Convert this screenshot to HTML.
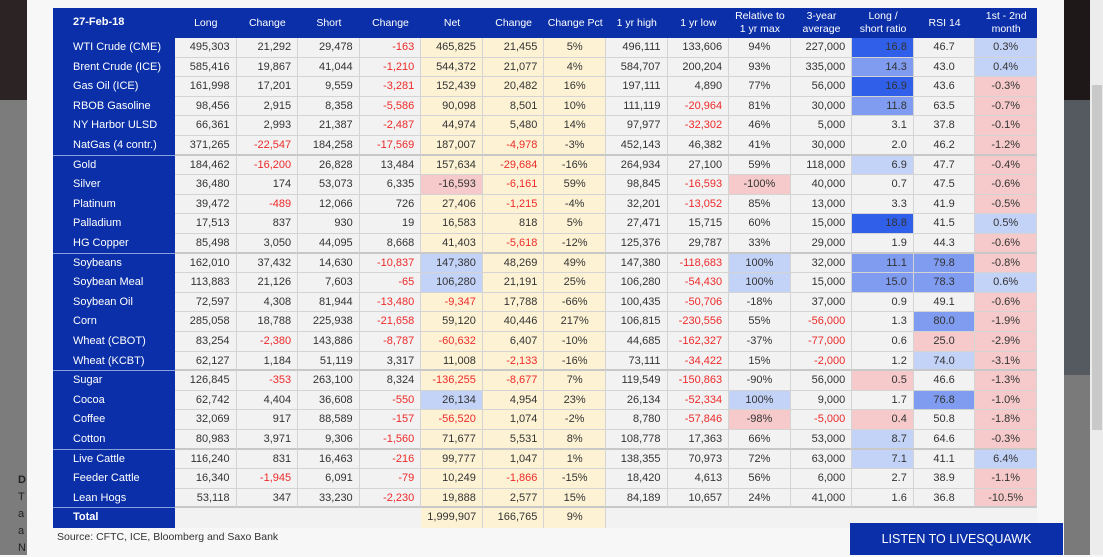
<!DOCTYPE html>
<html><head><meta charset="utf-8">
<style>
*{margin:0;padding:0;box-sizing:border-box}
body{width:1103px;height:555px;overflow:hidden;background:#f7f7f7;font-family:"Liberation Sans",sans-serif;position:relative}
.abs{position:absolute}
#tbl{position:absolute;left:53px;top:8px;width:984px;height:520px;background:#0a2fa8}
.c{position:absolute;font-size:11px;color:#333;line-height:19.6px;white-space:nowrap;border-right:1px solid #d4d4d4;border-bottom:1px solid #d4d4d4;padding:0 6px}
.h{position:absolute;color:#fff;font-size:10.5px;text-align:center;display:flex;align-items:center;justify-content:center;line-height:13px}
.lab{position:absolute;color:#fff;font-size:11px;line-height:19.6px;left:20px}
</style></head><body>
<div class="abs" style="left:0;top:0;width:27px;height:555px;background:#7c7c7c"></div>
<div class="abs" style="left:0;top:0;width:27px;height:100px;background:#2c2424"></div>
<div class="abs" style="left:18px;top:472px;font-size:11px;color:#222;line-height:17px;font-weight:bold">D<br><span style="font-weight:normal">T<br>a<br>a<br>N</span></div>
<div class="abs" style="left:1064px;top:0;width:26px;height:555px;background:#7a7a7a"></div>
<div class="abs" style="left:1064px;top:0;width:26px;height:100px;background:#1e1818"></div>
<div class="abs" style="left:1064px;top:100px;width:26px;height:275px;background:#555a60"></div>
<div class="abs" style="left:1090px;top:0;width:13px;height:555px;background:#ececec"></div>
<div class="abs" style="left:1092px;top:85px;width:10px;height:345px;background:#c9c9c9"></div>

<div id="tbl"></div>
<div class="abs" style="left:57px;top:531px;font-size:10.5px;color:#333">Source: CFTC, ICE, Bloomberg and Saxo Bank</div>
<div class="abs" style="left:850px;top:523px;width:213px;height:32px;background:#0a2fa8;color:#fff;font-size:12.5px;text-align:center;line-height:32px">LISTEN TO LIVESQUAWK</div>

<script>
const headers=["Long","Change","Short","Change","Net","Change","Change Pct","1 yr high","1 yr low","Relative to<br>1 yr max","3-year<br>average","Long /<br>short ratio","RSI 14","1st - 2nd<br>month"];
const labels=["WTI Crude (CME)","Brent Crude (ICE)","Gas Oil (ICE)","RBOB Gasoline","NY Harbor ULSD","NatGas (4 contr.)","Gold","Silver","Platinum","Palladium","HG Copper","Soybeans","Soybean Meal","Soybean Oil","Corn","Wheat (CBOT)","Wheat (KCBT)","Sugar","Cocoa","Coffee","Cotton","Live Cattle","Feeder Cattle","Lean Hogs"];
const rows=[
["495,303","21,292","29,478","-163","465,825","21,455","5%","496,111","133,606","94%","227,000","16.8","46.7","0.3%"],
["585,416","19,867","41,044","-1,210","544,372","21,077","4%","584,707","200,204","93%","335,000","14.3","43.0","0.4%"],
["161,998","17,201","9,559","-3,281","152,439","20,482","16%","197,111","4,890","77%","56,000","16.9","43.6","-0.3%"],
["98,456","2,915","8,358","-5,586","90,098","8,501","10%","111,119","-20,964","81%","30,000","11.8","63.5","-0.7%"],
["66,361","2,993","21,387","-2,487","44,974","5,480","14%","97,977","-32,302","46%","5,000","3.1","37.8","-0.1%"],
["371,265","-22,547","184,258","-17,569","187,007","-4,978","-3%","452,143","46,382","41%","30,000","2.0","46.2","-1.2%"],
["184,462","-16,200","26,828","13,484","157,634","-29,684","-16%","264,934","27,100","59%","118,000","6.9","47.7","-0.4%"],
["36,480","174","53,073","6,335","-16,593","-6,161","59%","98,845","-16,593","-100%","40,000","0.7","47.5","-0.6%"],
["39,472","-489","12,066","726","27,406","-1,215","-4%","32,201","-13,052","85%","13,000","3.3","41.9","-0.5%"],
["17,513","837","930","19","16,583","818","5%","27,471","15,715","60%","15,000","18.8","41.5","0.5%"],
["85,498","3,050","44,095","8,668","41,403","-5,618","-12%","125,376","29,787","33%","29,000","1.9","44.3","-0.6%"],
["162,010","37,432","14,630","-10,837","147,380","48,269","49%","147,380","-118,683","100%","32,000","11.1","79.8","-0.8%"],
["113,883","21,126","7,603","-65","106,280","21,191","25%","106,280","-54,430","100%","15,000","15.0","78.3","0.6%"],
["72,597","4,308","81,944","-13,480","-9,347","17,788","-66%","100,435","-50,706","-18%","37,000","0.9","49.1","-0.6%"],
["285,058","18,788","225,938","-21,658","59,120","40,446","217%","106,815","-230,556","55%","-56,000","1.3","80.0","-1.9%"],
["83,254","-2,380","143,886","-8,787","-60,632","6,407","-10%","44,685","-162,327","-37%","-77,000","0.6","25.0","-2.9%"],
["62,127","1,184","51,119","3,317","11,008","-2,133","-16%","73,111","-34,422","15%","-2,000","1.2","74.0","-3.1%"],
["126,845","-353","263,100","8,324","-136,255","-8,677","7%","119,549","-150,863","-90%","56,000","0.5","46.6","-1.3%"],
["62,742","4,404","36,608","-550","26,134","4,954","23%","26,134","-52,334","100%","9,000","1.7","76.8","-1.0%"],
["32,069","917","88,589","-157","-56,520","1,074","-2%","8,780","-57,846","-98%","-5,000","0.4","50.8","-1.8%"],
["80,983","3,971","9,306","-1,560","71,677","5,531","8%","108,778","17,363","66%","53,000","8.7","64.6","-0.3%"],
["116,240","831","16,463","-216","99,777","1,047","1%","138,355","70,973","72%","63,000","7.1","41.1","6.4%"],
["16,340","-1,945","6,091","-79","10,249","-1,866","-15%","18,420","4,613","56%","6,000","2.7","38.9","-1.1%"],
["53,118","347","33,230","-2,230","19,888","2,577","15%","84,189","10,657","24%","41,000","1.6","36.8","-10.5%"]];
const totals=["1,999,907","166,765","9%"];
const highlights={"0:11":"S","1:11":"M","2:11":"S","3:11":"M","6:11":"L","9:11":"S","11:11":"M","12:11":"M","17:11":"P","19:11":"P","20:11":"L","21:11":"L",
"11:12":"M","12:12":"M","14:12":"M","15:12":"P","16:12":"L","18:12":"M",
"7:9":"P","11:9":"L","12:9":"L","18:9":"L","19:9":"P",
"7:4":"P","11:4":"L","12:4":"L","18:4":"L"};
const groupEnds=[5,10,16,20,23];
const fill={S:"#3060ea",M:"#7f9cf0",L:"#c3d2f7",P:"#f6caca"};
const T=document.getElementById('tbl');
const X0=122,CW=61.57,HH=30,RH=19.6;
const center=new Set([6,9,12,13]);
const redCols=new Set([1,3,4,5,8,10]);
headers.forEach((h,i)=>{
 const d=document.createElement('div');d.className='h';
 
 
 d.style.left=(X0+i*CW)+'px';d.style.top='0px';d.style.width=CW+'px';d.style.height=HH+'px';
 d.innerHTML=h;T.appendChild(d);
});
const dt=document.createElement('div');dt.className='lab';


dt.style.top='5px';dt.style.fontWeight='bold';dt.textContent='27-Feb-18';T.appendChild(dt);
labels.forEach((l,r)=>{
 const d=document.createElement('div');d.className='lab';
 
 
 d.style.top=(HH+r*RH)+'px';d.textContent=l;T.appendChild(d);
 rows[r].forEach((v,c)=>{
  const e=document.createElement('div');e.className='c';
  
  
  const hl=highlights[r+':'+c];
  let bg=(c>=4&&c<=6)?'#fdf3d4':'#f2f2f2';
  if(c===13)bg=v.startsWith('-')?fill.P:fill.L;
  if(hl)bg=fill[hl];
  e.style.background=bg;
  e.style.left=(X0+c*CW)+'px';e.style.top=(HH+r*RH)+'px';
  e.style.width=CW+'px';e.style.height=RH+'px';
  e.style.textAlign=center.has(c)?'center':'right';
  if(groupEnds.includes(r))e.style.borderBottom='2px solid #c8c8c8';
  if(v.startsWith('-')&&redCols.has(c)&&hl!=='P')e.style.color='#ee2a2a';
  e.textContent=v;T.appendChild(e);
 });
 if(groupEnds.includes(r)&&r<23){
  const s=document.createElement('div');s.className='abs';
  
  
  s.style.left='0';s.style.top=(HH+(r+1)*RH-1)+'px';s.style.width=X0+'px';s.style.height='1px';s.style.background='#8aa0d8';
  T.appendChild(s);
 }
});
const tl=document.createElement('div');tl.className='lab';


tl.style.top=(HH+24*RH)+'px';tl.style.fontWeight='bold';tl.textContent='Total';T.appendChild(tl);
const ts=document.createElement('div');ts.className='abs';


ts.style.left='0';ts.style.top=(HH+24*RH-1)+'px';ts.style.width=X0+'px';ts.style.height='1px';ts.style.background='#8aa0d8';T.appendChild(ts);
const gb=document.createElement('div');gb.className='abs';


gb.style.left=X0+'px';gb.style.top=(HH+24*RH)+'px';gb.style.width=(984-X0)+'px';gb.style.height=(520-HH-24*RH)+'px';gb.style.background='#f2f2f2';T.appendChild(gb);
totals.forEach((v,i)=>{
 const e=document.createElement('div');e.className='c';
 
 
 e.style.background='#fdf3d4';e.style.left=(X0+(4+i)*CW)+'px';e.style.top=(HH+24*RH)+'px';
 e.style.width=CW+'px';e.style.height=(520-HH-24*RH)+'px';e.style.borderBottom='none';
 e.style.textAlign=i===2?'center':'right';e.textContent=v;T.appendChild(e);
});
</script>
</body></html>
